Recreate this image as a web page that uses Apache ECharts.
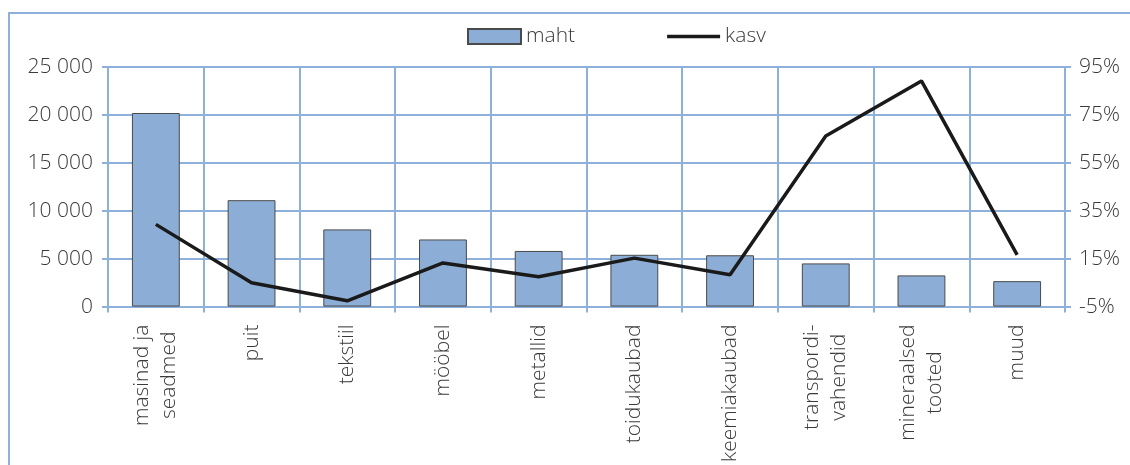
<!DOCTYPE html>
<html><head><meta charset="utf-8">
<script src="https://cdn.jsdelivr.net/npm/echarts@6/dist/echarts.min.js"></script>
<style>html,body{margin:0;padding:0;background:#fff}#c{width:1130px;height:465px}</style>
</head><body><div id="c"></div>
<script>
const categories = ['masinad ja\nseadmed','puit','tekstiil','mööbel','metallid','toidukaubad','keemiakaubad','transpordi-\nvahendid','mineraalsed\ntooted','muud'];
const maht = [20200, 11100, 8050, 7000, 5800, 5400, 5350, 4500, 3250, 2650];
const kasv = [29.3, 4.9, -2.6, 13.2, 7.4, 15.2, 8.3, 66.2, 89.2, 16.6];
const leftTicks = {min: 0, max: 25000, interval: 5000};
const rightTicks = {min: -5, max: 95, interval: 20};

const gridColor = '#8EB1DB';
const txt = '#3a3a3a';
const fs = 21;
const font = '"Open Sans", "DejaVu Sans", sans-serif';
const chart = echarts.init(document.getElementById('c'));
chart.setOption({
  animation: false,
  textStyle: {fontFamily: font},
  graphic: [{type: 'rect', shape: {x: 9, y: 13, width: 1140, height: 480}, style: {fill: 'none', stroke: gridColor, lineWidth: 2}, silent: true}],
  legend: {
    left: 462, top: 21, itemGap: 92, itemWidth: 53, itemHeight: 15, symbolKeepAspect: true,
    textStyle: {fontSize: fs, color: txt, fontWeight: 300, fontFamily: font},
    data: [{name: 'maht', icon: 'rect'}, {name: 'kasv', icon: 'path://M0,0 L53,0 L53,3.5 L0,3.5 Z'}]
  },
  grid: {left: 108, right: 65, top: 67, bottom: 156, containLabel: false},
  xAxis: {
    type: 'category', data: categories, boundaryGap: true,
    axisLine: {show: true, lineStyle: {color: gridColor, width: 2}},
    axisTick: {show: true, length: 6, lineStyle: {color: gridColor, width: 2}},
    splitLine: {show: true, lineStyle: {color: gridColor, width: 2}},
    axisLabel: {
      rotate: 90, margin: 18, interval: 0, color: txt, fontSize: fs, fontWeight: 300, fontFamily: font,
      formatter: v => v.split('\n').map(s => '{c|' + s + '}').join('\n'),
      rich: {c: {align: 'center', fontSize: fs, color: txt, fontWeight: 300, fontFamily: font, lineHeight: 27}}
    }
  },
  yAxis: [{
    type: 'value', min: leftTicks.min, max: leftTicks.max, interval: leftTicks.interval,
    axisLine: {show: true, lineStyle: {color: gridColor, width: 2}},
    axisTick: {show: true, length: 6, lineStyle: {color: gridColor, width: 2}},
    splitLine: {show: true, lineStyle: {color: gridColor, width: 2}},
    axisLabel: {margin: 15, color: txt, fontSize: fs, fontWeight: 300, fontFamily: font,
      formatter: v => String(v).replace(/\B(?=(\d{3})+(?!\d))/g, ' ')}
  }, {
    type: 'value', position: 'right', min: rightTicks.min, max: rightTicks.max, interval: rightTicks.interval,
    axisLine: {show: true, lineStyle: {color: gridColor, width: 2}},
    axisTick: {show: true, length: 6, lineStyle: {color: gridColor, width: 2}},
    splitLine: {show: false},
    axisLabel: {margin: 14, color: txt, fontSize: fs, fontWeight: 300, fontFamily: font, formatter: v => v + '%'}
  }],
  series: [{
    name: 'maht', type: 'bar', data: maht, barWidth: '50%', yAxisIndex: 0,
    itemStyle: {color: '#8CAED6', borderColor: '#4a4a4a', borderWidth: 1}
  }, {
    name: 'kasv', type: 'line', data: kasv, yAxisIndex: 1, symbol: 'none',
    lineStyle: {color: '#1a1a1a', width: 3.5}, itemStyle: {color: '#1a1a1a'}
  }]
});
</script></body></html>
